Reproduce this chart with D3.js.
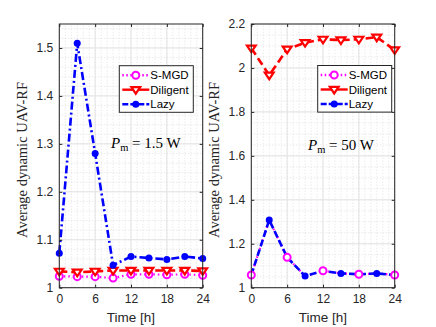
<!DOCTYPE html>
<html>
<head>
<meta charset="utf-8">
<script src="https://cdn.jsdelivr.net/npm/d3@7"></script>
<style>
	body { margin: 0; background: #fff; }
	svg { display: block; }
</style>
</head>
<body>
<div id="chart"></div>
<script>
// data
const hours = [0, 3, 6, 9, 12, 15, 18, 21, 24];
const seriesNames = ['S-MGD', 'Diligent', 'Lazy'];

// P_m = 1.5 W
const smgdLow = [1.024, 1.023, 1.023, 1.020, 1.028, 1.028, 1.027, 1.028, 1.026];
const diligentLow = [1.034, 1.032, 1.034, 1.036, 1.036, 1.036, 1.036, 1.036, 1.035];
const lazyLow = [1.072, 1.51, 1.28, 1.047, 1.065, 1.062, 1.059, 1.065, 1.061];

// P_m = 50 W
const smgdHigh = [1.058, 1.308, 1.138, 1.053, 1.077, 1.065, 1.061, 1.065, 1.058];
const diligentHigh = [2.09, 1.967, 2.085, 2.115, 2.13, 2.127, 2.13, 2.14, 2.082];
const lazyHigh = [1.058, 1.308, 1.138, 1.053, 1.077, 1.065, 1.061, 1.065, 1.058];

const xTicks = [0, 6, 12, 18, 24];
const yTicksLow = [1, 1.1, 1.2, 1.3, 1.4, 1.5];
const yTicksHigh = [1, 1.2, 1.4, 1.6, 1.8, 2, 2.2];

const width = 436;
const height = 327;

const svg = d3.select('#chart')
	.append('svg')
	.attr('width', width)
	.attr('height', height);

const styles = {
	'S-MGD': { color: '#ff00ff', dash: '1.5,3', marker: 'circle' },
	'Diligent': { color: '#ff0000', dash: '8,4', marker: 'tri' },
	'Lazy': { color: '#0000ff', dash: '8,3,2,3', marker: 'dot' }
};

function drawMarker (g, type, color, x, y) {
	if (type === 'circle') {
		g.append('circle')
			.attr('cx', x).attr('cy', y).attr('r', 3.5)
			.attr('fill', '#fff')
			.attr('stroke', color)
			.attr('stroke-width', 2);
	} else if (type === 'dot') {
		g.append('circle')
			.attr('cx', x).attr('cy', y).attr('r', 3.5)
			.attr('fill', color);
	} else {
		const s = 4.4;
		g.append('path')
			.attr('d', `M${x - s},${y - s * 0.6}L${x + s},${y - s * 0.6}L${x},${y + s * 0.9}Z`)
			.attr('fill', '#fff')
			.attr('stroke', color)
			.attr('stroke-width', 2.2)
			.attr('stroke-linejoin', 'miter');
	}
}

function drawPanel (cfg) {
	const x = d3.scaleLinear().domain([0, 24]).range([cfg.left, cfg.right]);
	const y = d3.scaleLinear().domain(cfg.yDomain).range([287.7, 24]);
	const g = svg.append('g');

	// minor grid
	const xMinor = d3.range(0, 25, 1);
	const yMinor = d3.range(cfg.yDomain[0], cfg.yDomain[1] + 1e-9, cfg.yMinorStep);
	g.selectAll('.xminor').data(xMinor).enter().append('line')
		.attr('x1', (d) => x(d)).attr('x2', (d) => x(d))
		.attr('y1', y.range()[0]).attr('y2', y.range()[1])
		.attr('stroke', '#d9d9d9').attr('stroke-width', 0.8)
		.attr('stroke-dasharray', '1,2');
	g.selectAll('.yminor').data(yMinor).enter().append('line')
		.attr('y1', (d) => y(d)).attr('y2', (d) => y(d))
		.attr('x1', cfg.left).attr('x2', cfg.right)
		.attr('stroke', '#d9d9d9').attr('stroke-width', 0.8)
		.attr('stroke-dasharray', '1,2');

	// major grid
	g.selectAll('.xmajor').data(xTicks).enter().append('line')
		.attr('x1', (d) => x(d)).attr('x2', (d) => x(d))
		.attr('y1', y.range()[0]).attr('y2', y.range()[1])
		.attr('stroke', '#e3e3e3').attr('stroke-width', 1);
	g.selectAll('.ymajor').data(cfg.yTicks).enter().append('line')
		.attr('y1', (d) => y(d)).attr('y2', (d) => y(d))
		.attr('x1', cfg.left).attr('x2', cfg.right)
		.attr('stroke', '#e3e3e3').attr('stroke-width', 1);

	// series lines
	const line = d3.line()
		.x((d, i) => x(hours[i]))
		.y((d) => y(d));

	cfg.series.forEach((s) => {
		const st = styles[s.name];
		g.append('path')
			.datum(s.values)
			.attr('d', line)
			.attr('fill', 'none')
			.attr('stroke', st.color)
			.attr('stroke-width', s.name === 'S-MGD' ? 2.2 : 2.6)
			.attr('stroke-dasharray', s.dash || st.dash);
		if (!s.late) {
			s.values.forEach((v, i) => {
				if (s.marks && s.marks.indexOf(hours[i]) < 0) return;
				drawMarker(g, st.marker, st.color, x(hours[i]), y(v));
			});
		}
	});
	cfg.series.filter((s) => s.late).forEach((s) => {
		const st = styles[s.name];
		s.values.forEach((v, i) => {
			if (s.marks && s.marks.indexOf(hours[i]) < 0) return;
			drawMarker(g, st.marker, st.color, x(hours[i]), y(v));
		});
	});

	// frame
	g.append('rect')
		.attr('x', cfg.left).attr('y', 24)
		.attr('width', cfg.right - cfg.left).attr('height', 287.7 - 24)
		.attr('fill', 'none').attr('stroke', '#262626').attr('stroke-width', 1);

	// axes with inward ticks
	const axisBottom = d3.axisBottom(x).tickValues(xTicks).tickSize(-3).tickPadding(7).tickFormat(d3.format('d'));
	const axisTop = d3.axisTop(x).tickValues(xTicks).tickSize(-3).tickFormat('');
	const axisLeft = d3.axisLeft(y).tickValues(cfg.yTicks).tickSize(-3).tickPadding(6).tickFormat((d) => d3.format('')(+d.toFixed(1)));
	const axisRight = d3.axisRight(y).tickValues(cfg.yTicks).tickSize(-3).tickFormat('');

	const axes = [
		[axisBottom, `translate(0,287.7)`],
		[axisTop, `translate(0,24)`],
		[axisLeft, `translate(${cfg.left},0)`],
		[axisRight, `translate(${cfg.right},0)`]
	];
	axes.forEach(([ax, tr]) => {
		const a = g.append('g').attr('transform', tr).call(ax);
		a.select('.domain').remove();
		a.selectAll('.tick line').attr('stroke', '#262626');
		a.selectAll('.tick text')
			.attr('fill', '#262626')
			.style('font-family', '"Liberation Sans", Arial, sans-serif')
			.style('font-size', '12px');
	});

	// axis labels
	g.append('text')
		.attr('x', (cfg.left + cfg.right) / 2)
		.attr('y', 322)
		.attr('text-anchor', 'middle')
		.attr('fill', '#262626')
		.style('font-family', '"Liberation Sans", Arial, sans-serif')
		.style('font-size', '13.5px')
		.text('Time [h]');

	g.append('text')
		.attr('transform', `translate(${cfg.ylabelX},160) rotate(-90)`)
		.attr('text-anchor', 'middle')
		.attr('fill', '#262626')
		.style('font-family', '"Liberation Serif", "Times New Roman", serif')
		.style('font-size', '14.5px')
		.text('Average dynamic UAV-RF');

	// annotation
	const ann = g.append('text')
		.attr('x', cfg.annX)
		.attr('y', cfg.annY)
		.attr('fill', '#000')
		.style('font-family', '"Liberation Serif", "Times New Roman", serif')
		.style('font-size', '15px');
	ann.append('tspan').style('font-style', 'italic').text('P');
	ann.append('tspan').attr('dy', 3).style('font-size', '10.5px').text('m');
	ann.append('tspan').attr('dy', -3).text(' = ' + cfg.power + ' W');

	// legend
	const lg = g.append('g').attr('transform', `translate(${cfg.legX},${cfg.legY})`);
	lg.append('rect')
		.attr('width', 74).attr('height', 46.6)
		.attr('fill', '#fff').attr('stroke', '#262626').attr('stroke-width', 1);
	seriesNames.forEach((name, i) => {
		const st = styles[name];
		const yy = 9.5 + i * 14.5;
		lg.append('line')
			.attr('x1', 3).attr('x2', 30)
			.attr('y1', yy).attr('y2', yy)
			.attr('stroke', st.color)
			.attr('stroke-width', 2.4)
			.attr('stroke-dasharray', name === 'S-MGD' ? '1.5,2.5' : name === 'Lazy' ? '6,2' : null);
		drawMarker(lg, st.marker, st.color, 16.5, yy);
		lg.append('text')
			.attr('x', 31)
			.attr('y', yy + 4)
			.attr('fill', '#000')
			.style('font-family', '"Liberation Sans", Arial, sans-serif')
			.style('font-size', '11.5px')
			.text(name);
	});
}

drawPanel({
	left: 59.3,
	right: 202.7,
	yDomain: [1, 1.55],
	yTicks: yTicksLow,
	yMinorStep: 0.02,
	ylabelX: 27,
	annX: 111,
	annY: 148,
	power: '1.5',
	legX: 119.3,
	legY: 65.7,
	series: [
		{ name: 'S-MGD', values: smgdLow },
		{ name: 'Diligent', values: diligentLow },
		{ name: 'Lazy', values: lazyLow }
	]
});

drawPanel({
	left: 251.3,
	right: 394.7,
	yDomain: [1, 2.2],
	yTicks: yTicksHigh,
	yMinorStep: 0.05,
	ylabelX: 219,
	annX: 308,
	annY: 150,
	power: '50',
	legX: 317.7,
	legY: 65.5,
	series: [
		{ name: 'S-MGD', values: smgdHigh, marks: [0, 6, 12, 18, 24], late: true },
		{ name: 'Diligent', values: diligentHigh },
		{ name: 'Lazy', values: lazyHigh, dash: '7,3', marks: [3, 9, 15, 21] }
	]
});
</script>
</body>
</html>
